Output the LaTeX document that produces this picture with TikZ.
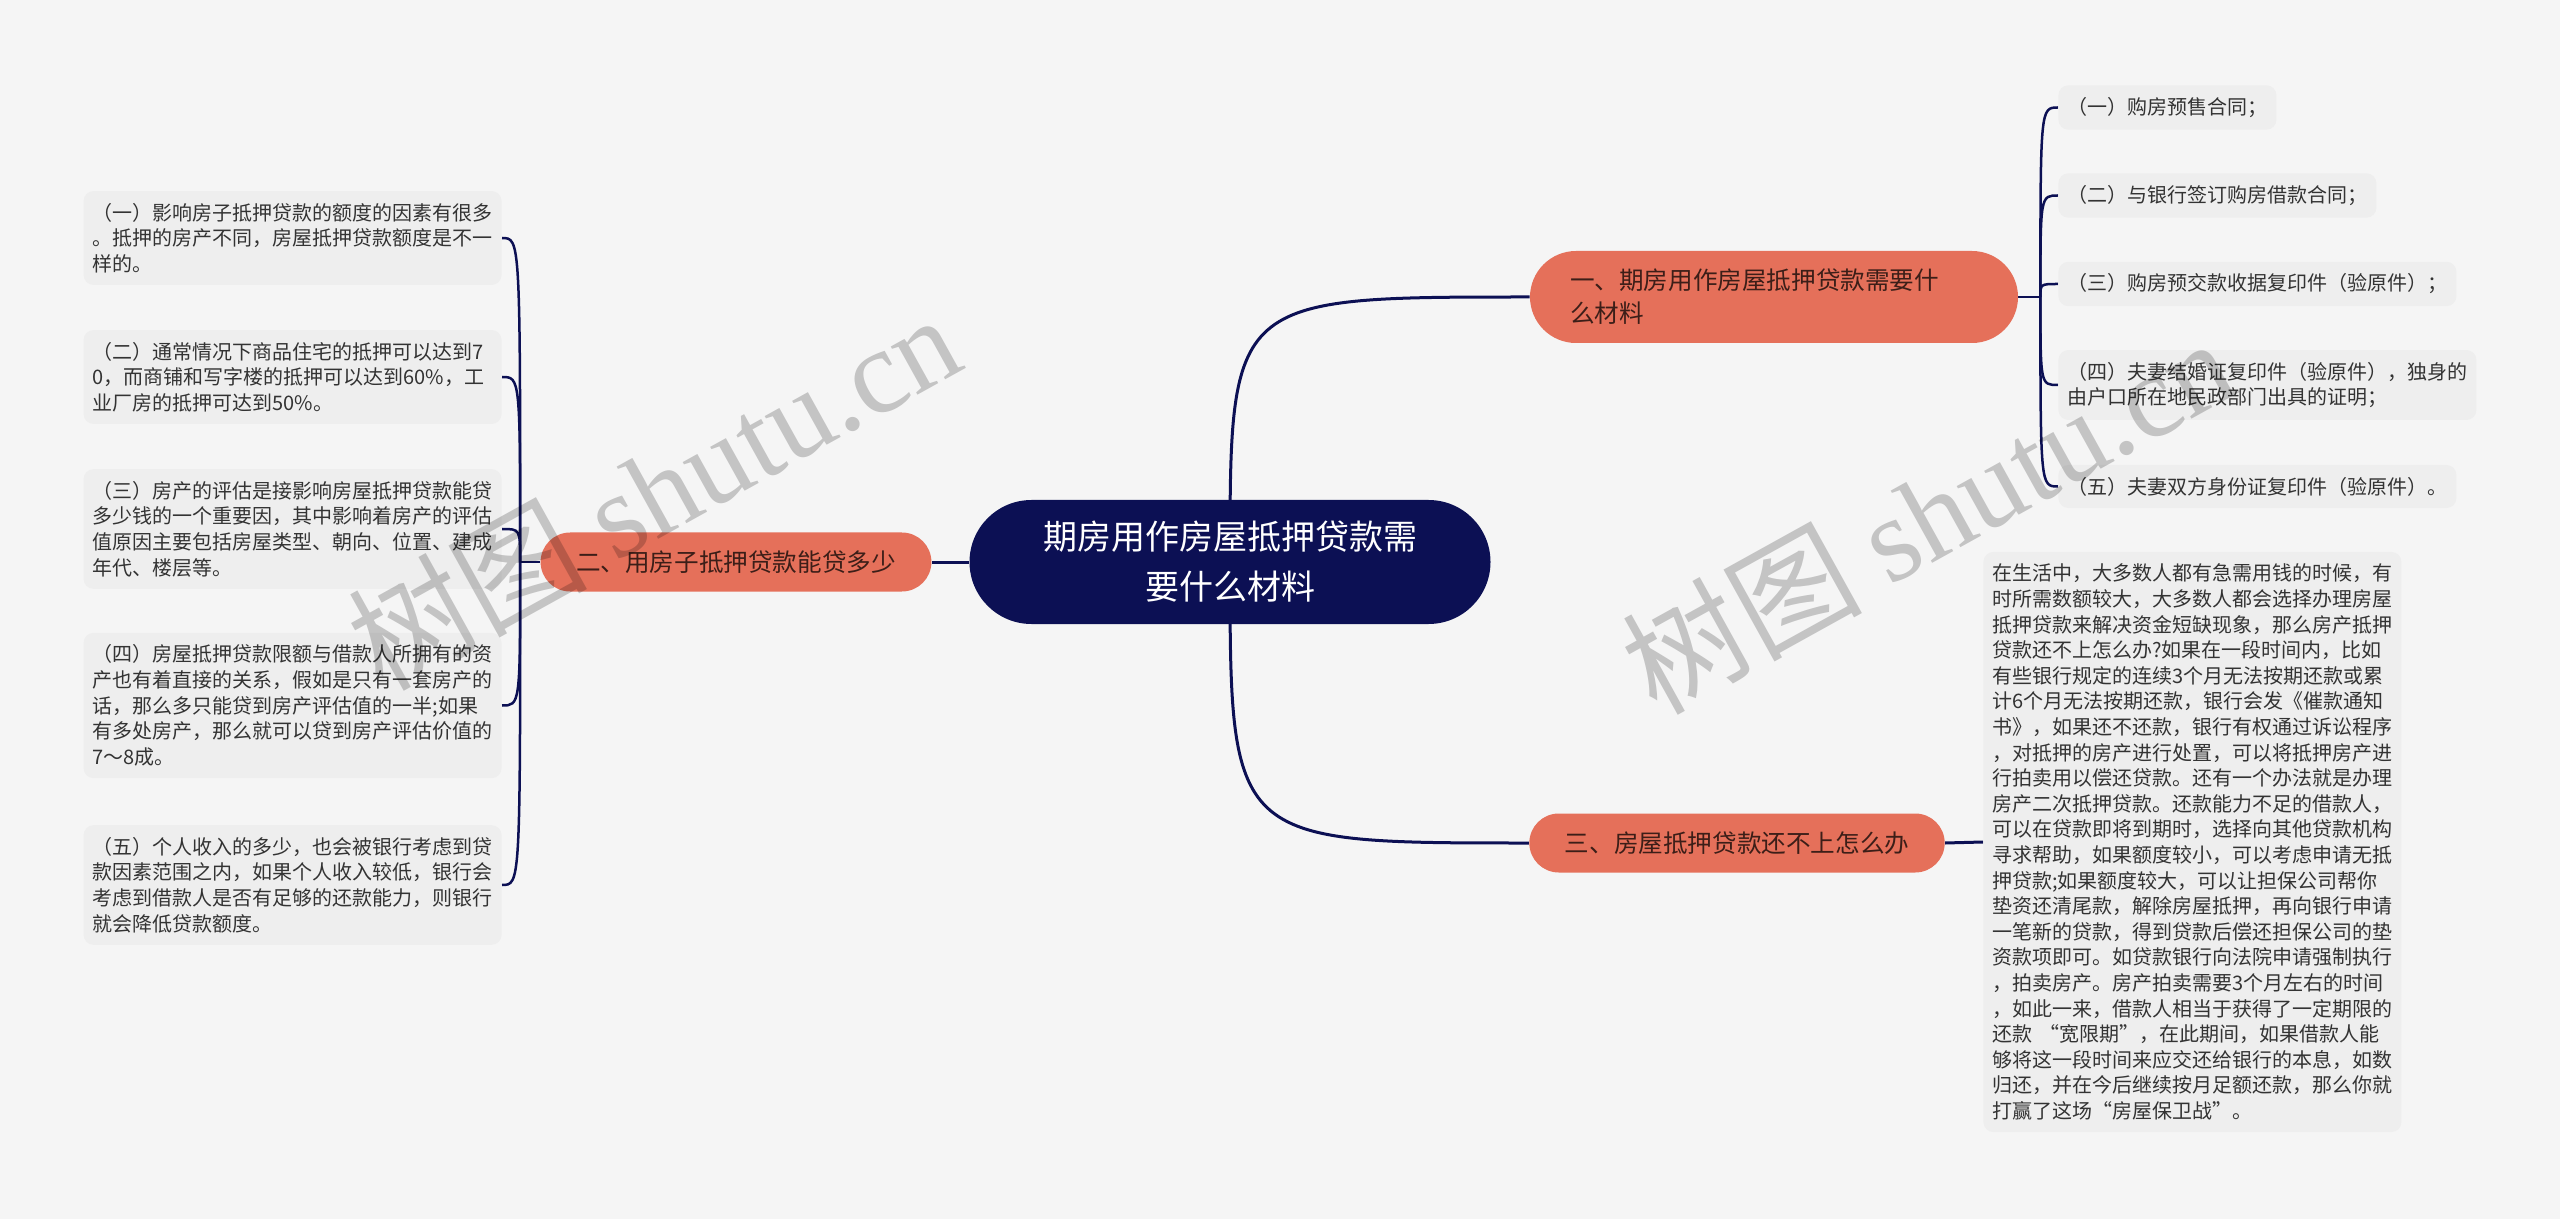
\documentclass[tikz,border=0pt]{standalone}
\usepackage{fontspec}
\setmainfont{Noto Sans CJK SC}
\newfontfamily\wmfont{Liberation Serif}
\usetikzlibrary{calc,backgrounds}

\definecolor{bgcol}{HTML}{F5F5F5}
\definecolor{rootblue}{HTML}{0C1054}
\definecolor{branchred}{HTML}{E5705A}
\definecolor{branchtext}{HTML}{3C1E18}
\definecolor{leafgray}{HTML}{EEEEEE}
\definecolor{leaftext}{HTML}{333333}

\tikzset{
  rootnode/.style={fill=rootblue,text=white,rounded corners=31pt,minimum width=260.5pt,
    minimum height=62pt,align=center,font=\fontsize{17}{25}\selectfont},
  branchnode/.style={fill=branchred,text=branchtext,font=\fontsize{12.3}{16.5}\selectfont,
    inner xsep=17.75pt,inner ysep=0pt,minimum height=29.5pt,rounded corners=14.75pt},
  leafnode/.style={fill=leafgray,text=leaftext,rounded corners=5pt,align=left,
    font=\fontsize{10}{12.8}\selectfont,inner xsep=4.5pt,inner ysep=6pt},
  leafbox/.style={leafnode,text width=200pt},
  link/.style={draw=rootblue,line width=1.5pt},
  twig/.style={draw=rootblue,line width=1.25pt},
  watermark/.style={text=black,text opacity=0.2,font=\fontsize{60}{60}\selectfont,rotate=29}
}

\begin{document}
\begin{tikzpicture}[x=0.5pt,y=-0.5pt]
  \useasboundingbox (0,0) rectangle (2560,1219);

  % centre and branches
  \node[rootnode] (root) at (1230,562) {期房用作房屋抵押贷款需\\要什么材料};
  \node[branchnode,minimum height=46pt,rounded corners=23pt,inner xsep=20pt,
        text width=204pt,align=left] (b1) at (1774,297)
        {一、期房用作房屋抵押贷款需要什\\么材料};
  \node[branchnode] (b2) at (736,562) {二、用房子抵押贷款能贷多少};
  \node[branchnode] (b3) at (1737,843) {三、房屋抵押贷款还不上怎么办};

  % leaves of branch one
  \node[leafnode,anchor=west] (r1) at (2058,107.5) {（一）购房预售合同；};
  \node[leafnode,anchor=west] (r2) at (2058,195.5) {（二）与银行签订购房借款合同；};
  \node[leafnode,anchor=west] (r3) at (2058,284) {（三）购房预交款收据复印件（验原件）；};
  \node[leafnode,anchor=west] (r4) at (2058,385)
    {（四）夫妻结婚证复印件（验原件），独身的\\由户口所在地民政部门出具的证明；};
  \node[leafnode,anchor=west] (r5) at (2058,486.5) {（五）夫妻双方身份证复印件（验原件）。};

  % leaves of branch two
  \node[leafbox,anchor=east] (l1) at (502,238)
    {（一）影响房子抵押贷款的额度的因素有很多\\。抵押的房产不同，房屋抵押贷款额度是不一\\样的。};
  \node[leafbox,anchor=east] (l2) at (502,377)
    {（二）通常情况下商品住宅的抵押可以达到7\\0，而商铺和写字楼的抵押可以达到60\%，工\\业厂房的抵押可达到50\%。};
  \node[leafbox,anchor=east] (l3) at (502,529)
    {（三）房产的评估是接影响房屋抵押贷款能贷\\多少钱的一个重要因，其中影响着房产的评估\\值原因主要包括房屋类型、朝向、位置、建成\\年代、楼层等。};
  \node[leafbox,anchor=east] (l4) at (502,705.5)
    {（四）房屋抵押贷款限额与借款人所拥有的资\\产也有着直接的关系，假如是只有一套房产的\\话，那么多只能贷到房产评估值的一半;如果\\有多处房产，那么就可以贷到房产评估价值的\\7～8成。};
  \node[leafbox,anchor=east] (l5) at (502,885)
    {（五）个人收入的多少，也会被银行考虑到贷\\款因素范围之内，如果个人收入较低，银行会\\考虑到借款人是否有足够的还款能力，则银行\\就会降低贷款额度。};

  % leaf of branch three
  \node[leafbox,anchor=west] (r6) at (1983,842)
    {在生活中，大多数人都有急需用钱的时候，有\\时所需数额较大，大多数人都会选择办理房屋\\抵押贷款来解决资金短缺现象，那么房产抵押\\贷款还不上怎么办?如果在一段时间内，比如\\有些银行规定的连续3个月无法按期还款或累\\计6个月无法按期还款，银行会发《催款通知\\书》，如果还不还款，银行有权通过诉讼程序\\，对抵押的房产进行处置，可以将抵押房产进\\行拍卖用以偿还贷款。还有一个办法就是办理\\房产二次抵押贷款。还款能力不足的借款人，\\可以在贷款即将到期时，选择向其他贷款机构\\寻求帮助，如果额度较小，可以考虑申请无抵\\押贷款;如果额度较大，可以让担保公司帮你\\垫资还清尾款，解除房屋抵押，再向银行申请\\一笔新的贷款，得到贷款后偿还担保公司的垫\\资款项即可。如贷款银行向法院申请强制执行\\，拍卖房产。房产拍卖需要3个月左右的时间\\，如此一来，借款人相当于获得了一定期限的\\还款~“宽限期”，在此期间，如果借款人能\\够将这一段时间来应交还给银行的本息，如数\\归还，并在今后继续按月足额还款，那么你就\\打赢了这场“房屋保卫战”。};

  \coordinate (j1) at ($(b1.east)+(22,0)$);
  \coordinate (j2) at ($(b2.west)+(-20,0)$);

  \begin{scope}[on background layer]
    \fill[bgcol] (0,0) rectangle (2560,1219);
    \draw[link] (root.center) .. controls (root.center |- b1.west) .. (b1.west);
    \draw[link] (root.center) .. controls (root.center |- b3.west) .. (b3.west);
    \draw[link] (root.west) -- (b2.east);
    \draw[link] (b3.east) -- (r6.west);
    \draw[twig] (b1.east) -- (j1);
    \foreach \n in {r1,r2,r3,r4,r5}
      \draw[twig] (j1) .. controls (j1 |- \n.west) .. (\n.west);
    \draw[twig] (b2.west) -- (j2);
    \foreach \n in {l1,l2,l3,l4,l5}
      \draw[twig] (j2) .. controls (j2 |- \n.east) .. (\n.east);
  \end{scope}

  % watermarks
  \node[watermark] (wm1) at (653,490) {树图 {\wmfont shutu.cn}};
  \node[watermark] (wm2) at (1927,514) {树图 {\wmfont shutu.cn}};
\end{tikzpicture}
\end{document}
